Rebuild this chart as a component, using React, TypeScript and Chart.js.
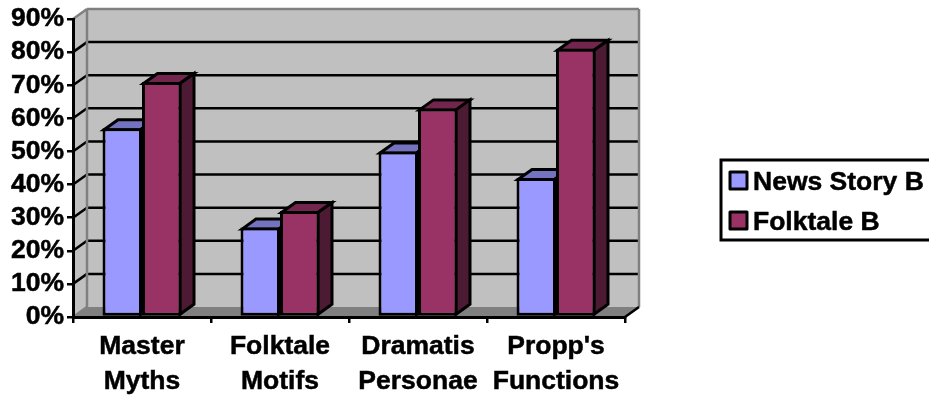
import React, { useEffect, useRef } from "react";
import { Chart, registerables } from "chart.js";

Chart.register(...registerables);

const categories = [["Master", "Myths"], ["Folktale", "Motifs"], ["Dramatis", "Personae"], ["Propp's", "Functions"]];
const newsStoryB = [57, 27, 50, 42];
const folktaleB = [71, 32, 63, 81];
const seriesNames = ["News Story B", "Folktale B"];

const FONT = '"Liberation Sans", Arial, sans-serif';
const TEXT_SIZE = 26.5;
const TEXT_STROKE = 0.5;
const DEPTH_X = 14;
const DEPTH_Y = -10;
const BAR_LINE = 3;

const poly = (ctx: CanvasRenderingContext2D, pts: number[][], fill: string | null, stroke?: string, lw = 2) => {
  ctx.beginPath();
  pts.forEach(([x, y], i) => (i ? ctx.lineTo(x, y) : ctx.moveTo(x, y)));
  ctx.closePath();
  if (fill) { ctx.fillStyle = fill; ctx.fill(); }
  if (stroke) { ctx.strokeStyle = stroke; ctx.lineWidth = lw; ctx.lineJoin = "miter"; ctx.stroke(); }
};

const seg = (ctx: CanvasRenderingContext2D, x1: number, y1: number, x2: number, y2: number, color: string, lw: number) => {
  ctx.beginPath();
  ctx.moveTo(x1, y1);
  ctx.lineTo(x2, y2);
  ctx.strokeStyle = color;
  ctx.lineWidth = lw;
  ctx.stroke();
};

// Walls, floor and depth-shifted gridlines of the 3D box.
const wallsPlugin = {
  id: "walls",
  beforeDraw(chart: any) {
    const { ctx, chartArea: a, scales } = chart;
    const yScale = scales.y;
    ctx.save();
    poly(ctx, [[a.left, a.top], [a.left + DEPTH_X, a.top + DEPTH_Y], [a.left + DEPTH_X, a.bottom + DEPTH_Y], [a.left, a.bottom]], "#C0C0C0");
    poly(ctx, [[a.left + DEPTH_X, a.top + DEPTH_Y], [a.right + DEPTH_X, a.top + DEPTH_Y], [a.right + DEPTH_X, a.bottom + DEPTH_Y], [a.left + DEPTH_X, a.bottom + DEPTH_Y]], "#C0C0C0");
    poly(ctx, [[a.left, a.bottom], [a.left + DEPTH_X, a.bottom + DEPTH_Y], [a.right + DEPTH_X, a.bottom + DEPTH_Y], [a.right, a.bottom]], "#808080");
    yScale.ticks.forEach((t: any) => {
      if (t.value === 0 || t.value === 90) return;
      const y = yScale.getPixelForValue(t.value);
      seg(ctx, a.left, y, a.left + DEPTH_X, y + DEPTH_Y, "#000", 2.5);
      seg(ctx, a.left + DEPTH_X, y + DEPTH_Y, a.right + DEPTH_X, y + DEPTH_Y, "#000", 2.5);
    });
    const lx = a.left + DEPTH_X, rx = a.right + DEPTH_X, ty = a.top + DEPTH_Y, by = a.bottom + DEPTH_Y;
    seg(ctx, a.left, a.top, lx, ty, "#808080", 2.5);
    seg(ctx, lx, ty, rx, ty, "#808080", 2.5);
    seg(ctx, rx, ty, rx, by, "#808080", 2.5);
    seg(ctx, lx, ty, lx, by, "#808080", 2.5);
    seg(ctx, a.left, a.bottom, lx, by, "#808080", 2.5);
    seg(ctx, a.right, a.bottom, rx, by, "#000", 2.5);
    ctx.restore();
  },
};

const tops = ["#7373BF", "#73264D"];
const sides = ["#4D4D80", "#4D1A33"];

// Top and side faces of each bar, behind the front faces Chart.js draws.
const barDepthPlugin = {
  id: "barDepth",
  beforeDatasetsDraw(chart: any) {
    const { ctx } = chart;
    ctx.save();
    chart.data.datasets.forEach((_: any, di: number) => {
      chart.getDatasetMeta(di).data.forEach((bar: any) => {
        const inset = BAR_LINE / 2;
        const l = bar.x - bar.width / 2 + inset;
        const r = bar.x + bar.width / 2 - inset;
        const t = bar.y + inset;
        const b = bar.base - inset;
        poly(ctx, [[l, t], [l + DEPTH_X, t + DEPTH_Y], [r + DEPTH_X, t + DEPTH_Y], [r, t]], tops[di], "#000", BAR_LINE);
        poly(ctx, [[r, t], [r + DEPTH_X, t + DEPTH_Y], [r + DEPTH_X, b + DEPTH_Y], [r, b]], sides[di], "#000", BAR_LINE);
      });
    });
    ctx.restore();
  },
};

// Boxed legend in the right margin; its right edge runs past the canvas.
const legendBoxPlugin = {
  id: "legendBox",
  afterDraw(chart: any) {
    const { ctx } = chart;
    ctx.save();
    ctx.strokeStyle = "#000";
    ctx.lineWidth = 3;
    ctx.strokeRect(721, 160, 230, 80);
    ctx.font = `bold ${TEXT_SIZE}px ${FONT}`;
    ctx.textBaseline = "middle";
    ctx.lineJoin = "round";
    chart.data.datasets.forEach((ds: any, i: number) => {
      const cy = 181 + i * 40;
      ctx.fillStyle = ds.backgroundColor;
      ctx.fillRect(730, cy - 9, 17, 17);
      ctx.lineWidth = 3;
      ctx.strokeRect(730, cy - 9, 17, 17);
      ctx.fillStyle = "#000";
      ctx.lineWidth = TEXT_STROKE;
      ctx.strokeText(ds.label, 753, cy + 2);
      ctx.fillText(ds.label, 753, cy + 2);
    });
    ctx.restore();
  },
};

export default function App() {
  const ref = useRef<HTMLCanvasElement>(null);
  useEffect(() => {
    const chart = new Chart(ref.current!, {
      type: "bar",
      data: {
        labels: categories as any,
        datasets: [
          { label: seriesNames[0], data: newsStoryB, backgroundColor: "#9999FF", borderColor: "#000", borderWidth: BAR_LINE, borderSkipped: false },
          { label: seriesNames[1], data: folktaleB, backgroundColor: "#993366", borderColor: "#000", borderWidth: BAR_LINE, borderSkipped: false },
        ],
      },
      options: {
        responsive: false,
        animation: false,
        layout: { padding: { left: 0, right: 304, top: 19, bottom: 0 } },
        plugins: { legend: { display: false }, tooltip: { enabled: false } },
        datasets: { bar: { barPercentage: 1, categoryPercentage: 0.5725 } },
        scales: {
          x: {
            afterFit: (s: any) => { s.height = 79; },
            grid: { drawOnChartArea: false, color: "#000", tickLength: 6, lineWidth: 2.5 },
            border: { color: "#000", width: 3 },
            ticks: {
              color: "#000",
              textStrokeColor: "#000",
              textStrokeWidth: TEXT_STROKE,
              font: { family: FONT, weight: "bold", size: TEXT_SIZE, lineHeight: 1.29 },
              maxRotation: 0,
              minRotation: 0,
              autoSkip: false,
              padding: 7,
            },
          },
          y: {
            min: 0,
            max: 90,
            afterFit: (s: any) => { s.width = 73; },
            grid: { drawOnChartArea: false, color: "#000", tickLength: 6, lineWidth: 2.5 },
            border: { color: "#000", width: 3 },
            ticks: {
              stepSize: 10,
              autoSkip: false,
              color: "#000",
              textStrokeColor: "#000",
              textStrokeWidth: TEXT_STROKE,
              font: { family: FONT, weight: "bold", size: TEXT_SIZE },
              padding: 3,
              callback: (v: any) => `${v}%`,
            },
          },
        },
      },
      plugins: [wallsPlugin, barDepthPlugin, legendBoxPlugin],
    } as any);
    return () => chart.destroy();
  }, []);
  return (
    <div style={{ position: "fixed", left: 0, top: 0, width: 929, height: 396, background: "#fff" }}>
      <canvas ref={ref} width={929} height={396} style={{ display: "block" }} />
    </div>
  );
}
